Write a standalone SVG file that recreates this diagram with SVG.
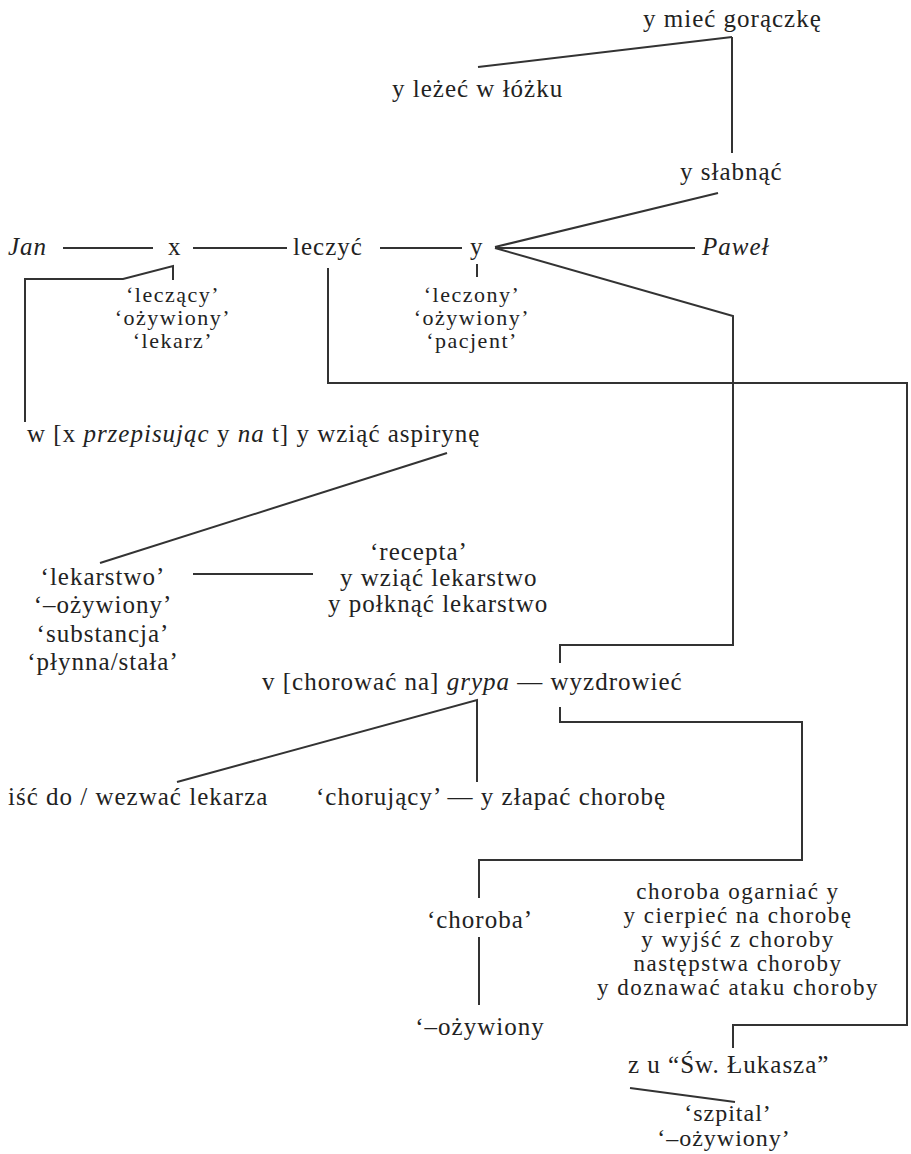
<svg xmlns="http://www.w3.org/2000/svg" width="911" height="1154" viewBox="0 0 911 1154" font-family="'Liberation Serif', 'DejaVu Serif', serif">
<style>
text{font-family:"Liberation Serif","DejaVu Serif",serif;font-size:25px;fill:#222;letter-spacing:1px}
.it{font-style:italic}
.m{text-anchor:middle}
.s{font-size:22px;letter-spacing:1.5px}
.b{font-size:23px;letter-spacing:1.5px}
.t{font-size:24px}
.c{fill:none;stroke:#333;stroke-width:2;stroke-linejoin:miter}
</style>
<rect width="911" height="1154" fill="#fff"/>
<g id="connectors" class="c">
<line x1="478" y1="67" x2="732" y2="37"/>
<line x1="732" y1="37" x2="732" y2="153"/>
<line x1="718" y1="193" x2="495" y2="247"/>
<line x1="63" y1="248" x2="153" y2="248"/>
<line x1="193" y1="248" x2="287" y2="248"/>
<line x1="380" y1="248" x2="462" y2="248"/>
<line x1="495" y1="248" x2="695" y2="248"/>
<polyline points="495,248 733,316 733,645 560,645 560,663"/>
<polyline points="25,422 25,279 123,279 173,266 173,280"/>
<line x1="477" y1="264" x2="477" y2="277"/>
<polyline points="328,268 328,383 907,383 907,1025 733,1025 733,1048"/>
<line x1="447" y1="453" x2="100" y2="563"/>
<line x1="193" y1="574" x2="313" y2="574"/>
<polyline points="177,782 477,700 477,782"/>
<polyline points="560,707 560,722 802,722 802,860 479,860 479,898"/>
<line x1="479" y1="937" x2="479" y2="1005"/>
<line x1="630" y1="1088" x2="735" y2="1102"/>
</g>
<g id="n-goraczka"><text x="643" y="27">y mieć gorączkę</text></g>
<g id="n-lozko"><text x="392" y="97">y leżeć w łóżku</text></g>
<g id="n-slabnac"><text x="680" y="180">y słabnąć</text></g>
<g id="n-jan"><text class="it" x="8" y="255">Jan</text></g>
<g id="n-x"><text x="168" y="255">x</text></g>
<g id="n-leczyc"><text x="293" y="255">leczyć</text></g>
<g id="n-y"><text x="470" y="255">y</text></g>
<g id="n-pawel"><text class="it" x="702" y="255">Paweł</text></g>
<g id="n-x-sem"><text class="m s" x="173" y="302">‘leczący’</text><text class="m s" x="173" y="325">‘ożywiony’</text><text class="m s" x="173" y="348">‘lekarz’</text></g>
<g id="n-y-sem"><text class="m s" x="472" y="302">‘leczony’</text><text class="m s" x="472" y="325">‘ożywiony’</text><text class="m s" x="472" y="348">‘pacjent’</text></g>
<g id="n-aspiryna"><text x="27" y="442">w [x <tspan class="it">przepisując</tspan> y <tspan class="it">na</tspan> t] y wziąć aspirynę</text></g>
<g id="n-recepta"><text x="370" y="560">‘recepta’</text><text x="340" y="586">y wziąć lekarstwo</text><text x="328" y="612">y połknąć lekarstwo</text></g>
<g id="n-lekarstwo"><text class="m" x="103" y="585">‘lekarstwo’</text><text class="m" x="103" y="613">‘–ożywiony’</text><text class="m" x="103" y="642">‘substancja’</text><text class="m" x="103" y="670">‘płynna/stała’</text></g>
<g id="n-grypa"><text x="262" y="690">v [chorować na] <tspan class="it">grypa</tspan> — wyzdrowieć</text></g>
<g id="n-lekarz"><text x="8" y="805">iść do / wezwać lekarza</text></g>
<g id="n-chorujacy"><text x="316" y="805">‘chorujący’ — y złapać chorobę</text></g>
<g id="n-choroba-list"><text class="m b" x="738" y="899">choroba ogarniać y</text><text class="m b" x="738" y="923">y cierpieć na chorobę</text><text class="m b" x="738" y="947">y wyjść z choroby</text><text class="m b" x="738" y="971">następstwa choroby</text><text class="m b" x="738" y="995">y doznawać ataku choroby</text></g>
<g id="n-choroba"><text class="m" x="480" y="928">‘choroba’</text></g>
<g id="n-ozywiony"><text class="m" x="480" y="1035">‘–ożywiony</text></g>
<g id="n-lukasz"><text x="628" y="1073">z u “Św. Łukasza”</text></g>
<g id="n-szpital"><text class="m t" x="728" y="1121">‘szpital’</text><text class="m t" x="724" y="1146">‘–ożywiony’</text></g>
</svg>
